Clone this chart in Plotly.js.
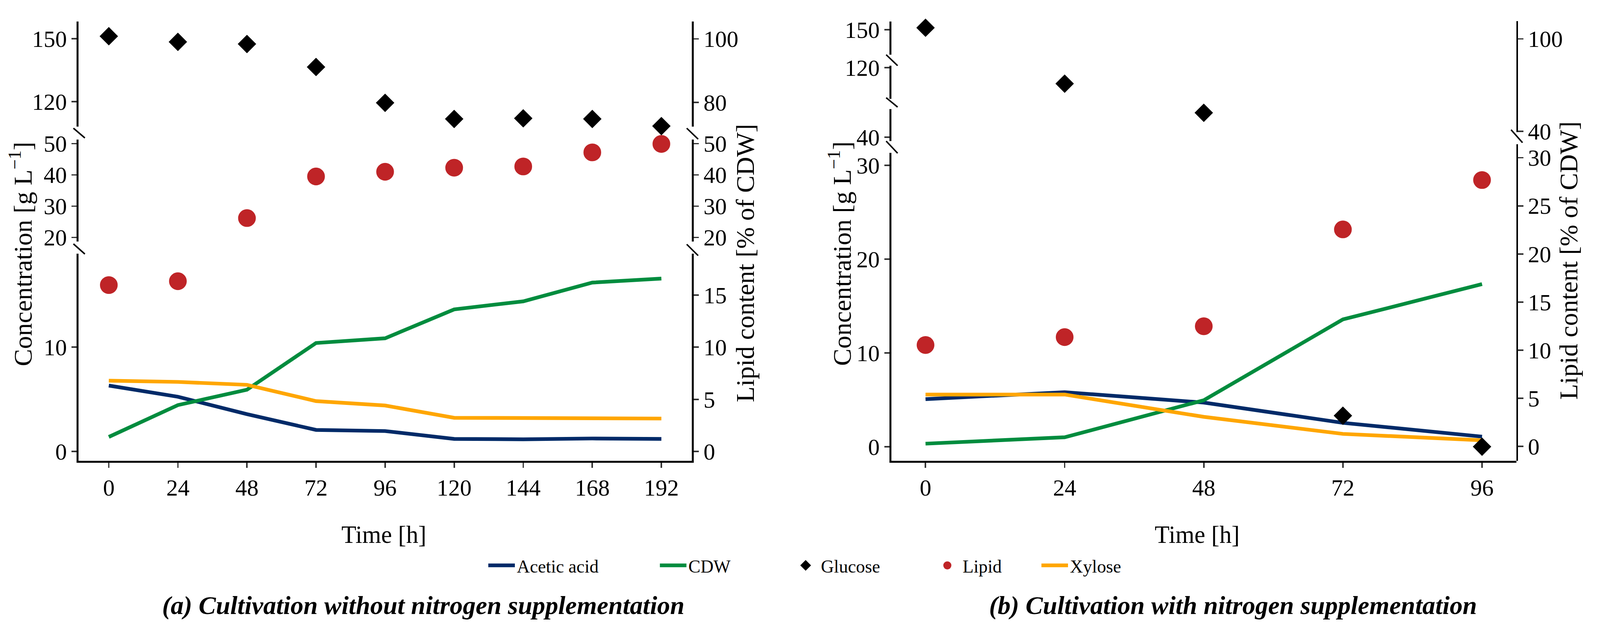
<!DOCTYPE html>
<html><head><meta charset="utf-8">
<script src="https://cdn.plot.ly/plotly-3.0.1.min.js"></script>
<style>html,body{margin:0;padding:0;background:#fff;overflow:hidden}#chart{width:100vw;height:100vh}</style>
</head><body><div id="chart"></div>
<script>
// ---------- data (a) without nitrogen supplementation ----------
const timeA = [0, 24, 48, 72, 96, 120, 144, 168, 192];
const aceticA = [6.32, 5.25, 3.58, 2.07, 1.96, 1.21, 1.17, 1.25, 1.21];
const cdwA = [1.40, 4.45, 5.92, 10.40, 10.85, 13.62, 14.39, 16.19, 16.57];
const glucoseA = [151.2, 148.5, 147.5, 136.5, 119.4, 111.7, 112.0, 111.7, 108.3];
const lipidA = [15.95, 16.32, 26.2, 39.5, 41.0, 42.3, 42.7, 47.2, 49.9];
const xyloseA = [6.79, 6.67, 6.39, 4.83, 4.41, 3.23, 3.21, 3.18, 3.16];

// ---------- data (b) with nitrogen supplementation ----------
const timeB = [0, 24, 48, 72, 96];
const aceticB = [5.07, 5.81, 4.70, 2.54, 1.07];
const cdwB = [0.32, 1.00, 4.95, 13.57, 17.34];
const glucoseB = [150.2, 118.3, 42.6, 3.3, 0];
const lipidB = [10.54, 11.36, 12.49, 22.55, 27.68];
const xyloseB = [5.56, 5.56, 3.18, 1.36, 0.68];

// ---------- tick labels ----------
const xTicksA = [0, 24, 48, 72, 96, 120, 144, 168, 192];
const xTicksB = [0, 24, 48, 72, 96];
const yTicksA_bottom = [0, 10], yTicksA_middle = [20, 30, 40, 50], yTicksA_top = [120, 150];
const y2TicksA_bottom = [0, 5, 10, 15], y2TicksA_middle = [20, 30, 40, 50], y2TicksA_top = [80, 100];
const yTicksB_seg4 = [0, 10, 20, 30], yTicksB_seg3 = [40], yTicksB_seg2 = [120], yTicksB_seg1 = [150];
const y2TicksB_bottom = [0, 5, 10, 15, 20, 25, 30], y2TicksB_top = [40, 100];

const names = {acetic: 'Acetic acid', cdw: 'CDW', glucose: 'Glucose', lipid: 'Lipid', xylose: 'Xylose'};
const colors = {acetic: '#002A68', cdw: '#008C3E', glucose: '#000000', lipid: '#BF2427', xylose: '#FFA600'};

// ---------- geometry helpers (design grid 4336 x 1617, scaled to the real viewport) ----------
const W = 4336, H = 1617;
const VW = window.innerWidth || W, VH = window.innerHeight || H;
const S = Math.min(VW / W, VH / H);
const z = v => v * S;
const FONT = 'Liberation Serif';
const px = v => v / W;
const py = v => 1 - v / H;
function dom(top, bottom) { return [py(bottom), py(top)]; }

function axisBase() {
  return {
    showline: true, linecolor: '#000', linewidth: z(5),
    ticks: 'outside', ticklen: z(14), tickwidth: z(4), tickcolor: '#333',
    showgrid: false, zeroline: false, fixedrange: true, tickmode: 'array',
    tickfont: {family: FONT, size: z(63), color: '#000'}
  };
}
function yax(domain, range, tickvals, extra) {
  return Object.assign(axisBase(), {domain: domain, range: range, tickvals: tickvals}, extra || {});
}

// split values into break segments: each value goes to the segment whose range contains it (or nearest)
function splitSeg(values, ranges) {
  const out = ranges.map(() => values.map(() => null));
  values.forEach((v, i) => {
    let best = 0, bestD = Infinity;
    ranges.forEach((r, k) => {
      const d = v < r[0] ? r[0] - v : (v > r[1] ? v - r[1] : 0);
      if (d < bestD) { bestD = d; best = k; }
    });
    out[best][i] = v;
  });
  return out;
}

// ---------- axis ranges ----------
const rA_bottom = [-0.89, 18.96], rA_middle = [18.69, 51.31], rA_top = [108.11, 158.33];
const r2A_bottom = [-0.89, 18.96], r2A_middle = [18.69, 51.31], r2A_top = [72.42, 105.54];
const rB_seg4 = [-1.51, 31.34], rB_seg3 = [39.58, 43.0], rB_seg2 = [116.70, 120.22], rB_seg1 = [147.31, 150.88];
const r2B_bottom = [-1.49, 31.40], r2B_top = [39.43, 111.56];

const layout = {
  width: VW, height: VH,
  margin: {l: 0, r: 0, t: 0, b: 0},
  paper_bgcolor: '#fff', plot_bgcolor: 'rgba(0,0,0,0)',
  showlegend: true,
  font: {family: FONT, color: '#000'},
  xaxis: Object.assign(axisBase(), {domain: [px(213), px(1875)], range: [-10.5, 202.6], anchor: 'y', tickvals: xTicksA}),
  xaxis2: Object.assign(axisBase(), {domain: [px(2415.5), px(4109)], range: [-5.9, 101.9], anchor: 'y7', tickvals: xTicksB}),
  // panel a, left
  yaxis: yax(dom(649, 1179), rA_bottom, yTicksA_bottom, {anchor: 'x'}),
  yaxis2: yax(dom(357, 618), rA_middle, yTicksA_middle, {anchor: 'x'}),
  yaxis3: yax(dom(54.5, 323.6), rA_top, yTicksA_top, {anchor: 'x'}),
  // panel a, right
  yaxis4: yax(dom(649, 1179), r2A_bottom, y2TicksA_bottom, {anchor: 'x', overlaying: 'y', side: 'right'}),
  yaxis5: yax(dom(357, 618), r2A_middle, y2TicksA_middle, {anchor: 'x', overlaying: 'y2', side: 'right'}),
  yaxis6: yax(dom(54.5, 323.6), r2A_top, y2TicksA_top, {anchor: 'x', overlaying: 'y3', side: 'right'}),
  // panel b, left
  yaxis7: yax(dom(391, 1179), rB_seg4, yTicksB_seg4, {anchor: 'x2'}),
  yaxis8: yax(dom(279, 361), rB_seg3, yTicksB_seg3, {anchor: 'x2'}),
  yaxis9: yax(dom(168, 252.5), rB_seg2, yTicksB_seg2, {anchor: 'x2'}),
  yaxis10: yax(dom(54.7, 140.3), rB_seg1, yTicksB_seg1, {anchor: 'x2'}),
  // panel b, right
  yaxis11: yax(dom(369, 1179), r2B_bottom, y2TicksB_bottom, {anchor: 'x2', side: 'right'}),
  yaxis12: yax(dom(54, 338), r2B_top, y2TicksB_top, {anchor: 'x2', side: 'right'}),
  annotations: [],
  shapes: []
};

// legends (one per series, placed like the reference)
const legendPos = {acetic: 1405, cdw: 1870, glucose: 2229, lipid: 2613, xylose: 2904};
const legendIds = {acetic: 'legend', cdw: 'legend2', glucose: 'legend3', lipid: 'legend4', xylose: 'legend5'};
Object.keys(legendIds).forEach(k => {
  layout[legendIds[k]] = {
    x: px(legendPos[k] - 87), xanchor: 'left', y: py(1447), yanchor: 'middle',
    orientation: 'h', bgcolor: 'rgba(0,0,0,0)', borderwidth: 0, itemwidth: Math.max(30, z(72)),
    font: {family: FONT, size: z(49), color: '#000'}
  };
});

// annotations: titles and captions
function ann(text, x, y, size, angle) {
  return {text: text, x: px(x), y: py(y), xref: 'paper', yref: 'paper', showarrow: false,
    xanchor: 'center', yanchor: 'middle', textangle: angle || 0, font: {family: FONT, size: z(size), color: '#000'}};
}
layout.annotations.push(
  ann('Concentration [g L<sup>−1</sup>]', 56, 650, 70, -90),
  ann('Lipid content [% of CDW]', 2019, 673, 70, -90),
  ann('Time [h]', 1041, 1367, 66, 0),
  ann('<b><i>(a) Cultivation without nitrogen supplementation</i></b>', 1147, 1548, 70, 0),
  ann('Concentration [g L<sup>−1</sup>]', 2276, 649, 70, -90),
  ann('Lipid content [% of CDW]', 4250, 667, 70, -90),
  ann('Time [h]', 3245, 1367, 66, 0),
  ann('<b><i>(b) Cultivation with nitrogen supplementation</i></b>', 3341, 1548, 70, 0)
);

// axis-break marks
function slash(xc, yTop, yBot) {
  return {type: 'line', xref: 'paper', yref: 'paper', x0: px(xc - 14), x1: px(xc + 17), y0: py(yTop), y1: py(yBot),
    line: {color: '#000', width: z(4)}};
}
layout.shapes.push(
  slash(213, 328, 353), slash(213, 624, 650),
  slash(1875, 328, 356), slash(1875, 625, 654),
  slash(2415.5, 140, 168), slash(2415.5, 250, 274), slash(2415.5, 361, 392),
  slash(4109, 332, 365)
);

// ---------- traces ----------
const traces = [];
const shown = {};
function legendFlag(k) { if (shown[k]) return false; shown[k] = true; return true; }
function lineTrace(k, x, y, xa, ya) {
  return {type: 'scatter', mode: 'lines', x: x, y: y, xaxis: xa, yaxis: ya, name: names[k], legend: legendIds[k],
    showlegend: legendFlag(k), line: {color: colors[k], width: z(10)}, hoverinfo: 'skip'};
}
function markTrace(k, x, y, xa, ya, symbol, size) {
  return {type: 'scatter', mode: 'markers', x: x, y: y, xaxis: xa, yaxis: ya, name: names[k], legend: legendIds[k],
    showlegend: legendFlag(k), cliponaxis: false,
    marker: {symbol: symbol, size: z(size), color: colors[k], line: {color: colors[k], width: z(5)}}, hoverinfo: 'skip'};
}
// empty holder so that every axis segment is drawn
function holder(xa, ya) {
  return {type: 'scatter', mode: 'markers', x: [], y: [], xaxis: xa, yaxis: ya, showlegend: false, hoverinfo: 'skip'};
}
['y', 'y2', 'y3', 'y4', 'y5', 'y6'].forEach(ya => traces.push(holder('x', ya)));
['y7', 'y8', 'y9', 'y10', 'y11', 'y12'].forEach(ya => traces.push(holder('x2', ya)));

// panel a lines
traces.push(lineTrace('acetic', timeA, aceticA, 'x', 'y'));
traces.push(lineTrace('cdw', timeA, cdwA, 'x', 'y'));
traces.push(lineTrace('xylose', timeA, xyloseA, 'x', 'y'));
// panel b lines
traces.push(lineTrace('acetic', timeB, aceticB, 'x2', 'y7'));
traces.push(lineTrace('cdw', timeB, cdwB, 'x2', 'y7'));
traces.push(lineTrace('xylose', timeB, xyloseB, 'x2', 'y7'));

// panel a markers
traces.push(markTrace('glucose', timeA, glucoseA, 'x', 'y3', 'diamond', 33));
const lipA = splitSeg(lipidA, [r2A_bottom, r2A_middle]);
traces.push(markTrace('lipid', timeA, lipA[0], 'x', 'y4', 'circle', 43));
traces.push(markTrace('lipid', timeA, lipA[1], 'x', 'y5', 'circle', 43));
// panel b markers
const gluB = splitSeg(glucoseB, [rB_seg4, rB_seg3, rB_seg2, rB_seg1]);
['y7', 'y8', 'y9', 'y10'].forEach((ya, i) => traces.push(markTrace('glucose', timeB, gluB[i], 'x2', ya, 'diamond', 33)));
traces.push(markTrace('lipid', timeB, lipidB, 'x2', 'y11', 'circle', 43));

Plotly.newPlot('chart', traces, layout, {staticPlot: true, displayModeBar: false});
</script></body></html>
